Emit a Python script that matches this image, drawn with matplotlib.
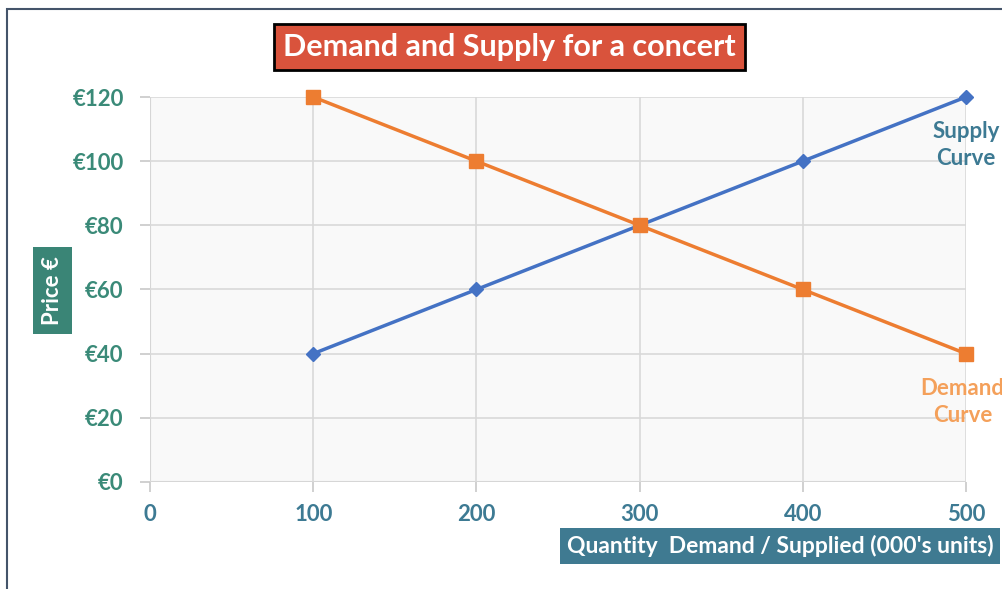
import matplotlib.pyplot as plt
from matplotlib.patches import Rectangle

plt.rcParams['font.family'] = ['Lato', 'DejaVu Sans']

quantity = [100, 200, 300, 400, 500]
supply_price = [40, 60, 80, 100, 120]
demand_price = [120, 100, 80, 60, 40]
x_ticks = [0, 100, 200, 300, 400, 500]
y_ticks = [0, 20, 40, 60, 80, 100, 120]

fig = plt.figure(figsize=(10.03, 5.89), dpi=100)
ax = fig.add_axes([0.1496, 0.1817, 0.8135, 0.6536])
ax.set_facecolor('#f9f9f9')

ax.plot(quantity, supply_price, color='#4472c4', lw=2.5, marker='D', ms=7,
        zorder=3, clip_on=False)
ax.plot(quantity, demand_price, color='#ed7d31', lw=2.5, marker='s', ms=10,
        zorder=4, clip_on=False)

ax.set_xlim(0, 500)
ax.set_ylim(0, 120)
ax.set_xticks(x_ticks)
ax.set_yticks(y_ticks)
ax.set_yticklabels(['€%d' % v for v in y_ticks])
ax.grid(True, color='#d9d9d9', lw=1.2)
for s in ax.spines.values():
    s.set_visible(False)
ax.tick_params(axis='both', length=7, color='#c8c8c8', width=1.2, labelsize=16)
ax.tick_params(axis='y', pad=12, labelcolor='#3a8a78')
ax.tick_params(axis='x', pad=9, labelcolor='#3d7a93')
for lab in ax.get_xticklabels() + ax.get_yticklabels():
    lab.set_fontweight('bold')
ax.axhline(0, color='#c8c8c8', lw=1.5, zorder=1)
ax.axvline(0, color='#c8c8c8', lw=1.5, zorder=1)

ax.text(500, 112.5, 'Supply\nCurve', color='#3d7a93', fontsize=16, fontweight='bold',
        ha='center', va='top', linespacing=1.35)
ax.text(498, 32.5, 'Demand\nCurve', color='#f4a05a', fontsize=16, fontweight='bold',
        ha='center', va='top', linespacing=1.35)

fig.text(0.5075, 0.92, 'Demand and Supply for a concert', color='white', fontsize=22,
         fontweight='bold', ha='center', va='center',
         bbox=dict(boxstyle='square,pad=0.3', fc='#d9533c', ec='black', lw=2))
fig.text(0.052, 0.507, 'Price €', color='white', fontsize=16, fontweight='bold',
         rotation=90, ha='center', va='center',
         bbox=dict(boxstyle='square,pad=0.4', fc='#3a8576', ec='none'))
fig.text(0.565, 0.073, "Quantity  Demand / Supplied (000's units)", color='white',
         fontsize=16.5, fontweight='bold', ha='left', va='center',
         bbox=dict(boxstyle='square,pad=0.3', fc='#3f7a91', ec='none'))

fig.patches.append(Rectangle((0.007, -0.1), 1.2, 1.085, transform=fig.transFigure,
                             fill=False, ec='#44546a', lw=1.5))

fig.savefig('out.png', dpi=100)
